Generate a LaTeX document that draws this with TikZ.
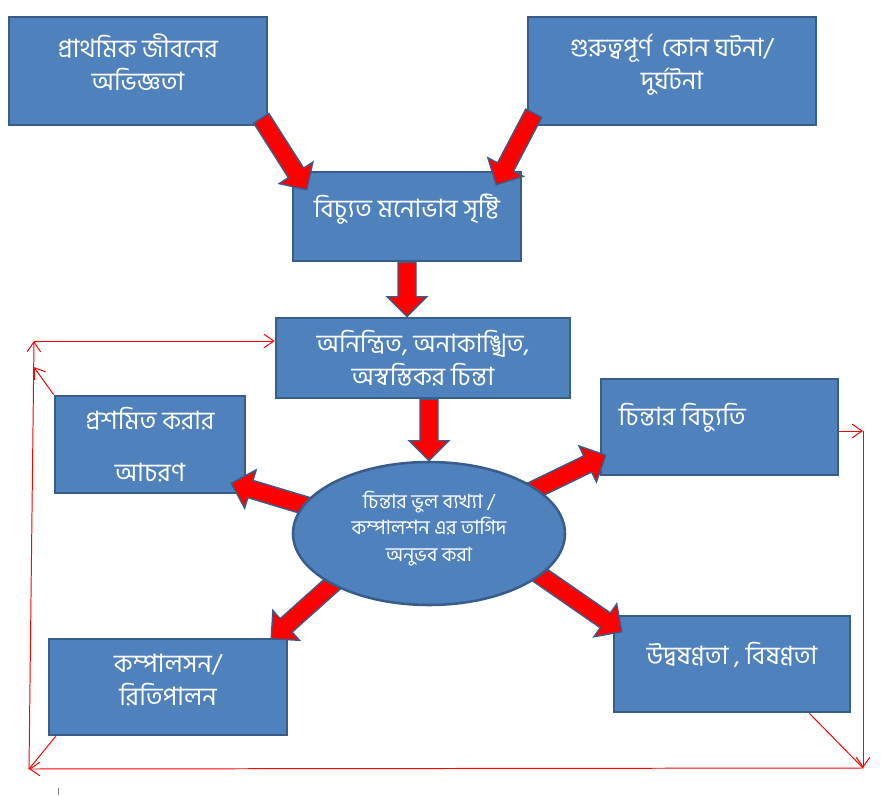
\documentclass[tikz,border=0pt]{standalone}
\usepackage{fontspec}
\newfontfamily\bangla[Script=Bengali]{Hind Siliguri}
\usepackage{tikz}
\usetikzlibrary{calc}
\usetikzlibrary{positioning}
\usetikzlibrary{shapes.geometric,arrows.meta}

\definecolor{boxblue}{HTML}{4F81BD}
\definecolor{boxline}{HTML}{385D8A}

\tikzset{
  box/.style={draw=boxline,line width=1.8pt,fill=boxblue,inner sep=0pt},
  oval/.style={ellipse,draw=boxline,line width=1.8pt,fill=boxblue,inner sep=0pt,minimum width=6.8cm,minimum height=3.575cm},
  txt/.style={text=white,align=center,font=\bangla\fontsize{18}{23.5}\selectfont},
  smalltxt/.style={text=white,align=center,font=\bangla\fontsize{14}{18.8}\selectfont},
  fatarrow/.style={fill=red,draw=boxline,line width=1pt,line join=miter},
  loopline/.style={red,line width=0.7pt,>={Straight Barb[length=2.5mm,width=3.4mm]}}
}

\newcommand{\fatarrow}[2]{%
  \coordinate (fa-n) at ($(#2)!0.5cm!(#1)$);
  \filldraw[fatarrow] ($(#1)!0.225cm!90:(#2)$) -- ($(fa-n)!0.225cm!90:(#2)$)
    -- ($(fa-n)!0.5cm!90:(#2)$) -- (#2) -- ($(fa-n)!0.5cm!-90:(#2)$)
    -- ($(fa-n)!0.225cm!-90:(#2)$) -- ($(#1)!0.225cm!-90:(#2)$) -- cycle;
}

\begin{document}
\begin{tikzpicture}
\useasboundingbox (0,0) rectangle (22.05,19.875);

\node[box,minimum width=6.45cm,minimum height=2.7cm] (early) at (3.45,18.1) {};
\node[txt] (early-t) at ([yshift=0.21cm]early.center) {প্রাথমিক জীবনের\\অভিজ্ঞতা};
\node[box,minimum width=7.2cm,minimum height=2.7cm] (event) at (16.8,18.1) {};
\node[txt] (event-t) at ([yshift=0.15cm]event.center) {গুরুত্বপূর্ণ\, কোন ঘটনা/\\দুর্ঘটনা};
\node[box,minimum width=5.7cm,minimum height=2.225cm] (distort) at (10.175,14.4625) {};
\node[txt] (distort-t) at ([yshift=0.19cm]distort.center) {বিচ্যুত মনোভাব সৃষ্টি};
\node[box,minimum width=7.35cm,minimum height=2cm] (unw) at (10.575,10.925) {};
\node[txt] (unw-t) at (unw.center) {অনিন্ত্রিত, অনাকাঙ্খিত,\\অস্বস্তিকর চিন্তা};
\node[box,minimum width=4.75cm,minimum height=2.425cm] (soothe) at (3.75,8.7625) {};
\node[txt] (soothe-t) at (soothe.center) {প্রশমিত করার\\[13pt]আচরণ};
\node[box,minimum width=5.925cm,minimum height=2.4cm] (devi) at (17.9875,9.2) {};
\node[txt,anchor=west] (devi-t) at ([shift={(0.35,0.225)}]devi.west) {চিন্তার বিচ্যুতি};
\node[box,minimum width=5.95cm,minimum height=2.4cm] (compul) at (4.2,2.7) {};
\node[txt] (compul-t) at ([yshift=0.175cm]compul.center) {কম্পালসন/\\রিতিপালন};
\node[box,minimum width=5.9cm,minimum height=2.4cm] (anx) at (18.3,3.275) {};
\node[txt] (anx-t) at ([yshift=0.225cm]anx.center) {উদ্বষণ্ণতা , বিষণ্ণতা};

\coordinate (mc) at (10.725,6.5375);
\coordinate (e1) at ($(mc)+(-1.3,0.16)$);
\coordinate (e2) at ([shift={(-0.375,0.275)}]soothe.south east);
\coordinate (f1) at ($(mc)+(1.225,0.41)$);
\coordinate (f2) at ([shift={(0.15,0.525)}]devi.south west);
\coordinate (g1) at ($(mc)+(-1.45,-0.4)$);
\coordinate (g2) at ([shift={(-0.425,-0.025)}]compul.north east);
\coordinate (h1) at ($(mc)+(1.85,-0.4)$);
\coordinate (h2) at ([shift={(0.225,-0.425)}]anx.north west);
\fatarrow{e1}{e2}
\fatarrow{f1}{f2}
\fatarrow{g1}{g2}
\fatarrow{h1}{h2}

\node[oval] (misread) at (mc) {};
\node[smalltxt] (misread-t) at ([yshift=0.125cm]mc) {চিন্তার ভুল ব্যখ্যা /\\কম্পালশন এর তাগিদ\\অনুভব করা};

\coordinate (a1) at ([shift={(-0.175,0.2)}]early.south east);
\coordinate (a2) at ([shift={(0.375,-0.475)}]distort.north west);
\coordinate (b1) at ([shift={(0.175,0.325)}]event.south west);
\coordinate (b2) at ([shift={(-0.65,-0.35)}]distort.north east);
\coordinate (c2) at (distort.south |- unw.north);
\coordinate (d1) at (unw.south -| misread.north);
\fatarrow{a1}{a2}
\fatarrow{b1}{b2}
\fatarrow{distort.south}{c2}
\fatarrow{d1}{misread.north}

\coordinate (tl) at (0.85,11.35);
\coordinate (tlb) at (0.845,10.7);
\coordinate (bl) at (0.725,0.65);
\coordinate (br) at (21.575,0.675);
\coordinate (rt) at (21.575,9.1);
\draw[loopline,->] (rt -| devi.east) -- (rt);
\draw[loopline,->] (rt) -- (br);
\draw[loopline] ([xshift=-1.05cm]anx.south east) -- (br);
\draw[loopline,->] (br) -- (bl);
\draw[loopline] ([xshift=0.2cm]compul.south west) -- (bl);
\draw[loopline,->] (bl) -- (tl);
\draw[loopline,->] (soothe.north west) -- (tlb);
\draw[loopline,->] (tl) -- (tl -| unw.west);

\draw[gray,line width=0.4pt] (1.45,0) -- (1.45,0.18);
\end{tikzpicture}
\end{document}
